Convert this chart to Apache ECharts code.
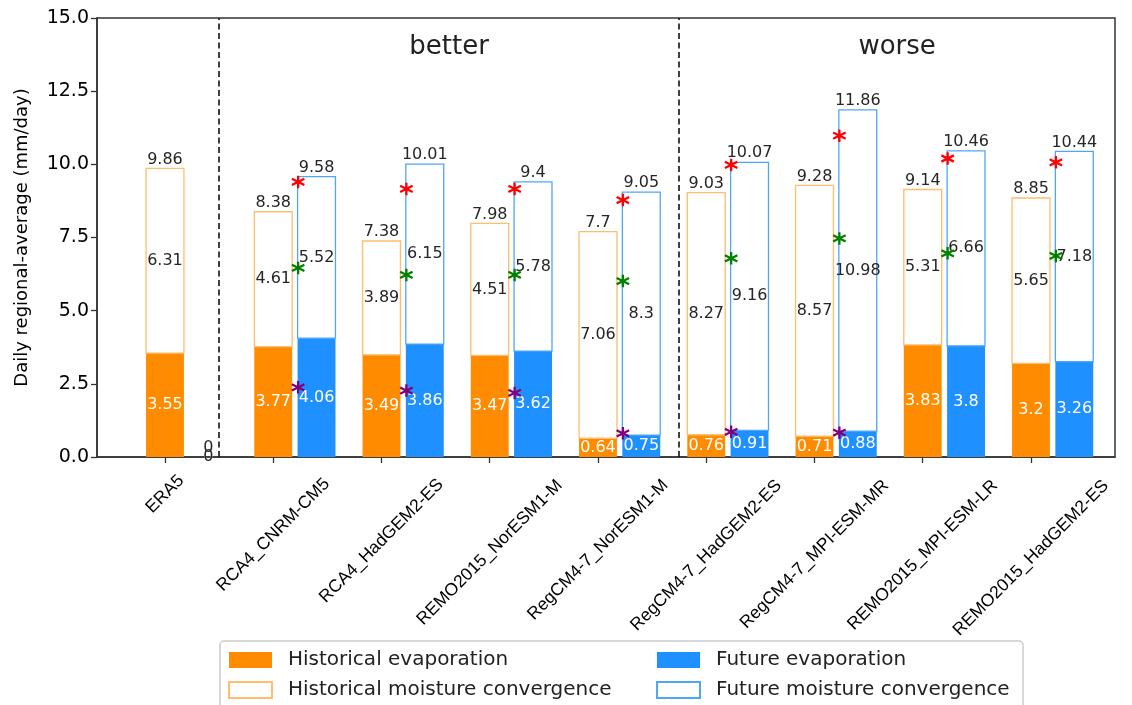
<!DOCTYPE html>
<html><head><meta charset="utf-8">
<script src="https://cdn.jsdelivr.net/npm/echarts@6/dist/echarts.min.js"></script>
<style>html,body{margin:0;padding:0;background:#fff}#c{width:1132px;height:705px}</style>
</head><body><div id="c"></div>
<script>
// ---------- data ----------
const categories = ['ERA5','RCA4_CNRM-CM5','RCA4_HadGEM2-ES','REMO2015_NorESM1-M','RegCM4-7_NorESM1-M','RegCM4-7_HadGEM2-ES','RegCM4-7_MPI-ESM-MR','REMO2015_MPI-ESM-LR','REMO2015_HadGEM2-ES'];
const histEvap = [3.55, 3.77, 3.49, 3.47, 0.64, 0.76, 0.71, 3.83, 3.2];
const histConv = [6.31, 4.61, 3.89, 4.51, 7.06, 8.27, 8.57, 5.31, 5.65];
const futEvap  = [0, 4.06, 3.86, 3.62, 0.75, 0.91, 0.88, 3.8, 3.26];
const futConv  = [0, 5.52, 6.15, 5.78, 8.3, 9.16, 10.98, 6.66, 7.18];
const redStars    = [null, 9.40, 9.16, 9.16, 8.78, 9.98, 10.98, 10.20, 10.07];
const greenStars  = [null, 6.46, 6.22, 6.22, 6.01, 6.79, 7.47, 6.96, 6.87];
const purpleStars = [null, 2.38, 2.27, 2.19, 0.81, 0.86, 0.83, null, null];
const yTicks = [0, 2.5, 5, 7.5, 10, 12.5, 15];
const groupDividers = [0.5, 4.75];
const groupLabels = ['better', 'worse'];

// ---------- layout / style ----------
const X_MIN = -0.628, X_MAX = 8.776;
const BAR_W = 0.35, FUT_OFF = 0.4, STAR_OFF = 0.23;
const ORANGE = '#ff8c00', BLUE = '#1e90ff', ORANGE_EDGE = '#ffbd6e', BLUE_EDGE = '#4ea6f7';
const LABEL_FONT = '16px "DejaVu Sans"';
const TXT = '#262626';
const GROUP_LABEL_Y = 14;

function fmt(v){ return String(parseFloat(v.toFixed(2))); }

const ctx = document.createElement('canvas').getContext('2d');
function measure(t, font){ ctx.font = font; return ctx.measureText(t).width; }

// rotated category labels centred on their tick (matplotlib style)
const XL_SIZE = 17.5, XL_MARGIN = 10;
const rich = {};
categories.forEach((c, i) => {
  const L = measure(c, XL_SIZE + 'px "Liberation Sans"');
  const D = 19.5 + 0.385 * L;
  const T = Math.max(0, (D - XL_MARGIN) / 0.7071);
  rich['c' + i] = {fontFamily: 'Liberation Sans', fontSize: XL_SIZE, color: '#000', padding: [T, T, 0, 0]};
});
const tickVals = categories.map((_, i) => i);

function filledSeries(name, evap, dx, color){
  return {
    type: 'custom', name, z: 2, silent: true,
    itemStyle: {color},
    data: evap.map((v, i) => [i, v]),
    renderItem(params, api){
      const x = api.value(0) + dx, v = api.value(1);
      const p0 = api.coord([x - BAR_W/2, 0]), p1 = api.coord([x + BAR_W/2, v]);
      return {type: 'group', children: [
        {type: 'rect', shape: {x: p0[0], y: p1[1], width: p1[0]-p0[0], height: p0[1]-p1[1]}, style: {fill: color}},
        {type: 'text', z2: 10, style: {text: fmt(v), x: (p0[0]+p1[0])/2, y: (p0[1]+p1[1])/2, align: 'center', verticalAlign: 'middle', fill: '#fff', font: LABEL_FONT}}
      ]};
    }
  };
}
function outlineSeries(name, evap, conv, dx, stroke){
  return {
    type: 'custom', name, z: 3, silent: true,
    itemStyle: {color: '#fff', borderColor: stroke},
    data: evap.map((v, i) => [i, v, conv[i]]),
    renderItem(params, api){
      const x = api.value(0) + dx, b = api.value(1), c = api.value(2), t = b + c;
      const p0 = api.coord([x - BAR_W/2, b]), p1 = api.coord([x + BAR_W/2, t]);
      const cx = (p0[0]+p1[0])/2;
      const ch = [];
      if (t > 0) ch.push({type: 'rect', shape: {x: p0[0], y: p1[1], width: p1[0]-p0[0], height: p0[1]-p1[1]}, style: {fill: 'none', stroke, lineWidth: 1.3}});
      ch.push({type: 'text', z2: 10, style: {text: fmt(c), x: cx, y: (p0[1]+p1[1])/2, align: 'center', verticalAlign: 'middle', fill: TXT, font: LABEL_FONT}});
      ch.push({type: 'text', z2: 10, style: {text: fmt(t), x: cx, y: p1[1] - 1, align: 'center', verticalAlign: 'bottom', fill: TXT, font: LABEL_FONT}});
      return {type: 'group', children: ch};
    }
  };
}
const STAR_PATH = 'path://M0,-10L0,10M-8.66,-5L8.66,5M-8.66,5L8.66,-5';
function starSeries(vals, color){
  const d = [];
  vals.forEach((v, i) => { if (v != null) d.push([i + STAR_OFF, v]); });
  return {type: 'scatter', symbol: STAR_PATH, symbolSize: 12.5, z: 6, silent: true,
    itemStyle: {color: color, borderColor: color, borderWidth: 2.3, opacity: 1}, data: d};
}

const legendFont = '20px "DejaVu Sans"';
const legLeft = 220, legRight = 1022;
const legContent = 43 + 5 + 11 + measure('Historical moisture convergence', legendFont);
const legPadR = Math.max(0, (legRight - legLeft) - 8 - legContent);
const legText = {fontFamily: 'DejaVu Sans', fontSize: 20, color: '#222', padding: [0, 0, 0, 11]};

const axisLineStyle = {color: '#333', width: 1.5};
const groupMid = [(groupDividers[0] + groupDividers[1]) / 2, (groupDividers[1] + X_MAX) / 2];

const option = {
  animation: false,
  backgroundColor: '#fff',
  textStyle: {fontFamily: 'DejaVu Sans'},
  grid: {left: 97, right: 17, top: 18, bottom: 248, show: true, borderColor: '#333', borderWidth: 1.5, backgroundColor: 'transparent'},
  xAxis: {
    type: 'value', min: X_MIN, max: X_MAX,
    axisLine: {show: true, onZero: false, lineStyle: axisLineStyle},
    axisTick: {show: true, length: 6, customValues: tickVals, lineStyle: {color: '#333', width: 1.3}},
    axisLabel: {customValues: tickVals, rotate: 45, align: 'center', verticalAlign: 'middle', margin: XL_MARGIN,
      fontFamily: 'Liberation Sans', fontSize: XL_SIZE, color: '#000',
      formatter: v => '{c' + Math.round(v) + '|' + categories[Math.round(v)] + '}', rich},
    splitLine: {show: false}
  },
  yAxis: {
    type: 'value', min: 0, max: 15, interval: 2.5,
    name: 'Daily regional-average (mm/day)', nameLocation: 'middle', nameGap: 66,
    nameTextStyle: {fontFamily: 'DejaVu Sans', fontSize: 18, color: '#000'},
    axisLine: {show: true, onZero: false, lineStyle: axisLineStyle},
    axisTick: {show: true, length: 6, lineStyle: {color: '#333', width: 1.3}},
    axisLabel: {customValues: yTicks, fontFamily: 'DejaVu Sans', fontSize: 19, color: '#000', margin: 8, formatter: v => v.toFixed(1)},
    splitLine: {show: false}
  },
  legend: [
    {orient: 'vertical', left: legLeft, top: 641, height: 120, itemWidth: 43, itemHeight: 16, itemGap: 10,
     padding: [9, legPadR, 12, 8], borderColor: '#cccccc', borderWidth: 1.5, borderRadius: 4,
     selectedMode: false, icon: 'rect', textStyle: legText,
     data: [
       {name: 'Historical evaporation', itemStyle: {color: ORANGE, borderWidth: 0}},
       {name: 'Historical moisture convergence', itemStyle: {color: '#fff', borderColor: ORANGE_EDGE, borderWidth: 2}}
     ]},
    {orient: 'vertical', left: 656, top: 650, height: 120, itemWidth: 43, itemHeight: 16, itemGap: 10, padding: 0,
     selectedMode: false, icon: 'rect', textStyle: legText,
     data: [
       {name: 'Future evaporation', itemStyle: {color: BLUE, borderWidth: 0}},
       {name: 'Future moisture convergence', itemStyle: {color: '#fff', borderColor: BLUE_EDGE, borderWidth: 2}}
     ]}
  ],
  series: [
    filledSeries('Historical evaporation', histEvap, 0, ORANGE),
    filledSeries('Future evaporation', futEvap, FUT_OFF, BLUE),
    outlineSeries('Historical moisture convergence', histEvap, histConv, 0, ORANGE_EDGE),
    outlineSeries('Future moisture convergence', futEvap, futConv, FUT_OFF, BLUE_EDGE),
    starSeries(redStars, '#ff0000'),
    starSeries(greenStars, '#008000'),
    starSeries(purpleStars, '#800080'),
    {
      type: 'custom', name: 'groups', silent: true, z: 4,
      data: groupLabels.map((t, k) => [groupMid[k], GROUP_LABEL_Y, k]),
      renderItem(params, api){
        const p = api.coord([api.value(0), api.value(1)]);
        return {type: 'text', style: {text: groupLabels[api.value(2)], x: p[0], y: p[1], align: 'center', verticalAlign: 'middle', fill: '#222', font: '26px "DejaVu Sans"'}};
      },
      markLine: {silent: true, symbol: 'none', label: {show: false},
        lineStyle: {type: [6, 3.5], color: '#111', width: 1.6},
        data: groupDividers.map(v => ({xAxis: v}))}
    }
  ]
};
echarts.init(document.getElementById('c'), null, {renderer: 'canvas'}).setOption(option);
</script></body></html>
